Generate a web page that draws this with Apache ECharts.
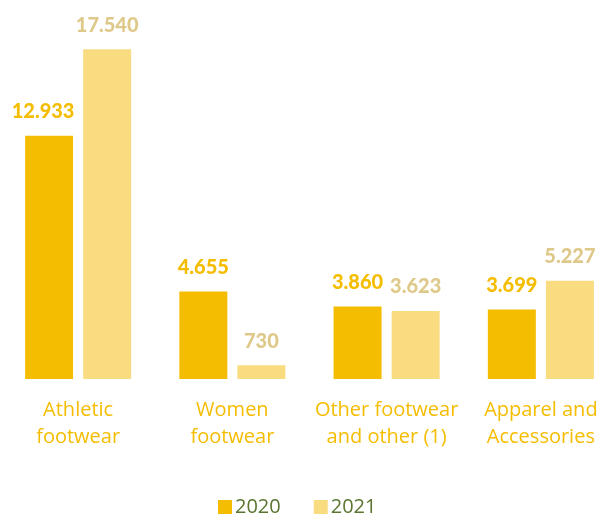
<!DOCTYPE html>
<html><head><meta charset="utf-8">
<script src="https://cdn.jsdelivr.net/npm/echarts@6/dist/echarts.min.js"></script>
<style>html,body{margin:0;padding:0;background:#fff;overflow:hidden}#c{width:618px;height:521px}</style>
</head><body><div id="c"></div>
<script>
const categories = ["Athletic\nfootwear", "Women\nfootwear", "Other footwear\nand other (1)", "Apparel and\nAccessories"];
const values2020 = [12933, 4655, 3860, 3699];
const values2021 = [17540, 730, 3623, 5227];
const seriesNames = ["2020", "2021"];

function fmt(v){ return String(v).replace(/\B(?=(\d{3})+(?!\d))/g, "."); }

const chart = echarts.init(document.getElementById('c'), null, {renderer:'canvas'});
const font = "Lato, 'Open Sans', sans-serif";
const font2 = "'Open Sans', sans-serif";
chart.setOption({
  animation:false,
  textStyle:{fontFamily:font},
  grid:{left:1, right:0, top:3, bottom:142, containLabel:false},
  legend:{
    data:seriesNames, bottom:-1, left:213, itemWidth:14, itemHeight:14, itemGap:33,
    icon:'rect',
    textStyle:{color:'#5B7530', fontSize:20, fontFamily:font2, padding:[0,0,0,-2]}
  },
  xAxis:{
    type:'category', data:categories,
    axisLine:{show:false}, axisTick:{show:false},
    axisLabel:{color:'#F5BD02', fontSize:20, lineHeight:27, margin:18, interval:0, fontFamily:font2}
  },
  yAxis:{type:'value', min:0, max:20000, show:false, splitLine:{show:false}},
  series:[
    {name:seriesNames[0], type:'bar', barWidth:48, barGap:'21%',
     data:values2020.map((v,i)=> i===0 ? {value:v, label:{offset:[-6,0]}} : v),
     itemStyle:{color:'#F5BD02'},
     label:{show:true, position:'top', distance:14, color:'#F5BD02', fontSize:20, fontWeight:900, fontFamily:font,
       formatter:p=>fmt(p.value)}},
    {name:seriesNames[1], type:'bar', data:values2021, barWidth:48,
     itemStyle:{color:'#F9DC80'},
     label:{show:true, position:'top', distance:14, color:'#DFC98A', fontSize:20, fontWeight:900, fontFamily:font,
       formatter:p=>fmt(p.value)}}
  ]
});
</script></body></html>
